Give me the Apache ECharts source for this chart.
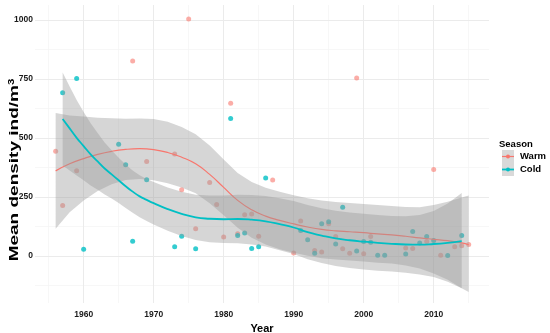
<!DOCTYPE html>
<html>
<head>
<meta charset="utf-8">
<script src="https://cdn.jsdelivr.net/npm/echarts@6/dist/echarts.min.js"></script>
<style>html,body{margin:0;padding:0;background:#fff;}#c{width:550px;height:333px;}</style>
</head>
<body>
<div id="c"></div>
<script>
// ---- data ----
const warmYears = [1956,1957,1959,1967,1969,1973,1974,1975,1976,1978,1979,1980,1981,1982,1983,1984,1985,1987,1990,1991,1993,1994,1995,1996,1997,1998,1999,2000,2001,2006,2007,2009,2010,2011,2013,2014,2015];
const warmValues = [443,213,361,826,400,431,280,1004,115,311,217,80,647,94,174,177,83,321,12,148,23,16,136,82,30,11,754,9,82,33,31,61,366,2,38,43,48];
const coldYears = [1957,1959,1960,1965,1966,1967,1969,1973,1974,1976,1981,1982,1983,1984,1985,1986,1991,1992,1993,1994,1995,1996,1997,1999,2000,2001,2002,2003,2006,2007,2008,2009,2010,2012,2014];
const coldValues = [691,751,28,473,386,62,322,38,83,30,582,86,97,31,38,330,107,68,11,136,144,50,206,20,61,57,2,2,8,103,54,82,65,1,86];

const warmFitYears = [1956,1958,1960,1962,1964,1966,1968,1970,1972,1974,1976,1978,1980,1982,1984,1986,1988,1990,1992,1994,1996,1998,2000,2002,2004,2006,2008,2010,2012,2014,2015];
const warmFit   = [360,390,412,430,443,451,454,450,438,418,390,345,290,235,195,168,150,135,122,112,106,102,98,93,89,83,76,70,64,55,47];
const warmUpper = [605,595,590,585,583,581,582,580,568,546,515,467,408,351,313,288,272,257,244,234,228,224,220,215,211,207,206,215,229,247,256];
const warmLower = [115,185,234,275,303,321,326,320,308,290,265,223,172,119,77,48,28,13,0,-10,-16,-20,-24,-29,-33,-41,-54,-75,-101,-137,-153];

const coldFitYears = [1957,1958,1959,1960,1961,1962,1963,1964,1965,1966,1967,1968,1969,1970,1972,1974,1976,1978,1980,1982,1984,1986,1988,1990,1992,1994,1996,1998,2000,2002,2004,2006,2008,2010,2012,2014];
const coldFit   = [580,540,500,465,430,400,370,345,320,295,272,252,237,223,198,178,163,157,155,156,153,146,134,120,100,86,74,66,60,55,51,48,47,50,55,62];
const coldUpper = [777,718,660,610,562,520,480,447,416,387,362,341,326,313,290,272,259,256,256,259,258,253,244,232,215,202,191,184,178,173,169,168,173,190,222,266];
const coldLower = [383,362,340,320,298,280,260,243,224,203,182,163,148,133,106,84,67,58,54,53,48,39,24,8,-15,-30,-43,-52,-58,-63,-67,-72,-79,-90,-110,-138];

const xTicks = [1960,1970,1980,1990,2000,2010];
const xMinor = [1955,1965,1975,1985,1995,2005,2015];
const yTicks = [0,250,500,750,1000];
const yMinor = [-125,125,375,625,875];

const seriesNames = ['Warm','Cold'];
// ---------------------------------------

const WARM = '#F8766D', COLD = '#00BFC4';
const FONT = 'Liberation Sans, Arial, sans-serif';
const zip = (a,b) => a.map((v,i)=>[v,b[i]]);

function ribbon(yrs, up, lo, z){
  return {
    type:'custom', z:z, silent:true, clip:true,
    data:[[yrs[0], up[0]]],
    renderItem:function(params, api){
      const pts=[];
      for(let i=0;i<yrs.length;i++) pts.push(api.coord([yrs[i], up[i]]));
      for(let i=yrs.length-1;i>=0;i--) pts.push(api.coord([yrs[i], lo[i]]));
      return {type:'polygon', shape:{points:pts}, style:{fill:'rgba(153,153,153,0.4)', stroke:null}};
    }
  };
}

const chart = echarts.init(document.getElementById('c'), null, {renderer:'canvas'});
chart.setOption({
  animation:false,
  backgroundColor:'#fff',
  grid:{left:35, right:61, top:5, bottom:30, containLabel:false, outerBoundsMode:'none'},
  xAxis:{
    type:'value', min:1953.05, max:2017.9,
    axisLine:{show:false}, axisTick:{show:false}, splitLine:{show:false},
    axisLabel:{customValues:xTicks, formatter:v=>String(v), fontFamily:FONT, fontWeight:'bold', fontSize:8.5, color:'#1a1a1a', margin:7},
    name:'Year', nameLocation:'middle', nameGap:12,
    nameTextStyle:{fontFamily:FONT, fontWeight:'bold', fontSize:11, color:'#000'}
  },
  yAxis:{
    type:'value', min:-200, max:1063,
    axisLine:{show:false}, axisTick:{show:false}, splitLine:{show:false},
    axisLabel:{customValues:yTicks, formatter:v=>String(v), fontFamily:FONT, fontWeight:'bold', fontSize:8.5, color:'#1a1a1a', margin:2}
  },
  graphic:[
    {type:'text', x:14, y:170, rotation:Math.PI/2, scaleY:0.72,
     style:{text:'{a|Mean density ind/m}{b|3}', textAlign:'center', textVerticalAlign:'middle',
       rich:{a:{fontFamily:FONT, fontWeight:'bold', fontSize:19, fill:'#000'},
             b:{fontFamily:FONT, fontWeight:'bold', fontSize:11.5, fill:'#000', verticalAlign:'top'}}}},
    {type:'text', x:499, y:144, style:{text:'Season', fontFamily:FONT, fontWeight:'bold', fontSize:9.5, fill:'#000', textVerticalAlign:'middle'}},
    {type:'rect', shape:{x:502, y:150, width:12, height:13}, style:{fill:'#D9D9D9'}},
    {type:'rect', shape:{x:502, y:163, width:12, height:13}, style:{fill:'#D9D9D9'}},
    {type:'line', shape:{x1:502, y1:156.5, x2:514, y2:156.5}, style:{stroke:WARM, lineWidth:1.2}},
    {type:'circle', shape:{cx:508, cy:156.5, r:2}, style:{fill:WARM}},
    {type:'line', shape:{x1:502, y1:169.5, x2:514, y2:169.5}, style:{stroke:COLD, lineWidth:1.8}},
    {type:'circle', shape:{cx:508, cy:169.5, r:2}, style:{fill:COLD}},
    {type:'text', x:520, y:156.5, style:{text:seriesNames[0], fontFamily:FONT, fontWeight:'bold', fontSize:9.5, fill:'#000', textVerticalAlign:'middle'}},
    {type:'text', x:520, y:169.5, style:{text:seriesNames[1], fontFamily:FONT, fontWeight:'bold', fontSize:9.5, fill:'#000', textVerticalAlign:'middle'}}
  ],
  series:[
    {type:'scatter', data:[], z:0, silent:true,
      markLine:{z:0, silent:true, symbol:['none','none'], label:{show:false},
        lineStyle:{color:'#F3F3F3', width:0.7, type:'solid'},
        data:xMinor.map(v=>({xAxis:v})).concat(yMinor.map(v=>({yAxis:v})))}},
    {type:'scatter', data:[], z:0, silent:true,
      markLine:{z:0, silent:true, symbol:['none','none'], label:{show:false},
        lineStyle:{color:'#EBEBEB', width:1, type:'solid'},
        data:xTicks.map(v=>({xAxis:v})).concat(yTicks.map(v=>({yAxis:v})))}},
    {name:seriesNames[0], type:'scatter', z:2, symbolSize:5, data:zip(warmYears, warmValues), itemStyle:{color:WARM, opacity:0.6}},
    {name:seriesNames[1], type:'scatter', z:2, symbolSize:5, data:zip(coldYears, coldValues), itemStyle:{color:COLD, opacity:0.8}},
    ribbon(warmFitYears, warmUpper, warmLower, 3),
    {type:'line', z:4, smooth:true, showSymbol:false, data:zip(warmFitYears, warmFit), lineStyle:{color:WARM, width:1.2}},
    ribbon(coldFitYears, coldUpper, coldLower, 5),
    {type:'line', z:6, smooth:true, showSymbol:false, data:zip(coldFitYears, coldFit), lineStyle:{color:COLD, width:1.8}}
  ]
});
</script>
</body>
</html>
